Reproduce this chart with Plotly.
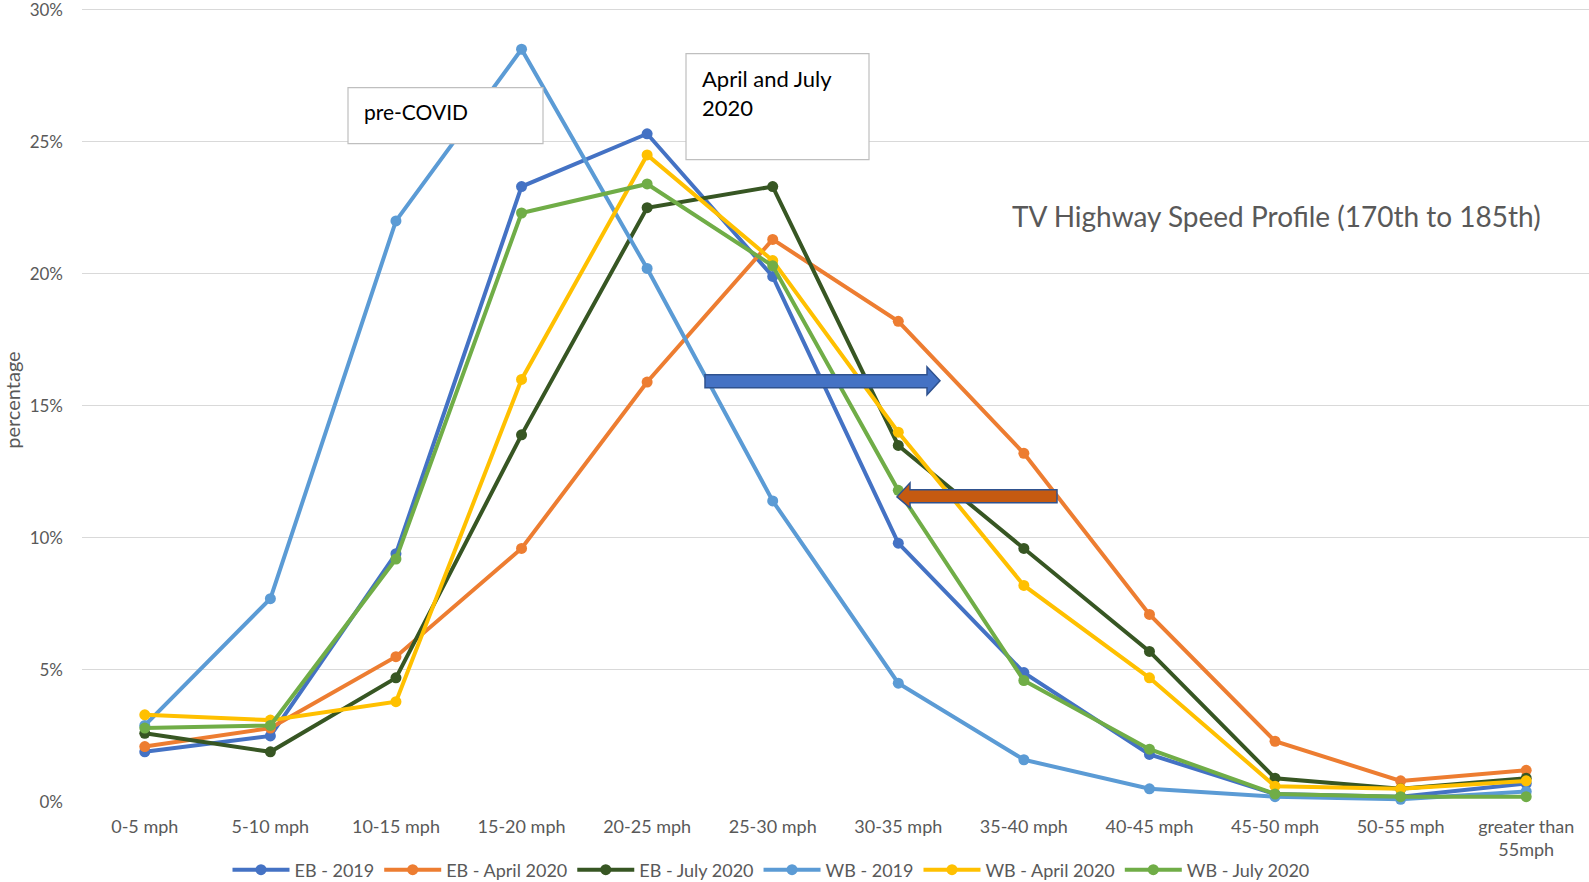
import plotly.graph_objects as go

categories = ["0-5 mph", "5-10 mph", "10-15 mph", "15-20 mph", "20-25 mph", "25-30 mph",
              "30-35 mph", "35-40 mph", "40-45 mph", "45-50 mph", "50-55 mph", "greater than<br>55mph"]

eb_2019 = [1.9, 2.5, 9.4, 23.3, 25.3, 19.9, 9.8, 4.9, 1.8, 0.3, 0.2, 0.7]
eb_april_2020 = [2.1, 2.8, 5.5, 9.6, 15.9, 21.3, 18.2, 13.2, 7.1, 2.3, 0.8, 1.2]
eb_july_2020 = [2.6, 1.9, 4.7, 13.9, 22.5, 23.3, 13.5, 9.6, 5.7, 0.9, 0.5, 0.9]
wb_2019 = [2.9, 7.7, 22.0, 28.5, 20.2, 11.4, 4.5, 1.6, 0.5, 0.2, 0.1, 0.4]
wb_april_2020 = [3.3, 3.1, 3.8, 16.0, 24.5, 20.5, 14.0, 8.2, 4.7, 0.6, 0.5, 0.8]
wb_july_2020 = [2.8, 2.9, 9.2, 22.3, 23.4, 20.3, 11.8, 4.6, 2.0, 0.3, 0.2, 0.2]

series_names = ["EB - 2019", "EB - April 2020", "EB - July 2020", "WB - 2019", "WB - April 2020", "WB - July 2020"]
series_values = [eb_2019, eb_april_2020, eb_july_2020, wb_2019, wb_april_2020, wb_july_2020]
series_colors = ["#4472C4", "#ED7D31", "#375623", "#5B9BD5", "#FFC000", "#70AD47"]

W, H = 1589, 882
YMAX = 0.301
L, R, B = 82, 0, 80
T = (H - B) - (H - B - 10) * YMAX / 0.30  # keep the 30% gridline at y=10
PW, PH = W - L - R, H - T - B


def px(x):
    return (x - L) / PW


def py(y):
    return (H - B - y) / PH


FONT = "Lato, 'Open Sans', sans-serif"
GRAY = "#595959"

fig = go.Figure()
for name, vals, col in zip(series_names, series_values, series_colors):
    fig.add_trace(go.Scatter(
        x=categories, y=[v / 100 for v in vals], name=name, mode="lines+markers",
        line=dict(color=col, width=4), marker=dict(color=col, size=11),
        cliponaxis=False,
    ))

shapes = []
shapes.append(dict(type="rect", xref="paper", yref="paper", x0=px(348), x1=px(543), y0=py(144), y1=py(88),
                   line=dict(color="#BFBFBF", width=1.2), fillcolor="white", layer="above"))
shapes.append(dict(type="rect", xref="paper", yref="paper", x0=px(686), x1=px(869), y0=py(160), y1=py(54),
                   line=dict(color="#BFBFBF", width=1.2), fillcolor="white", layer="above"))


def poly(points):
    return "M " + " L ".join(f"{px(a)},{py(b)}" for a, b in points) + " Z"


blue_pts = [(705, 375), (927, 375), (927, 367), (940, 381), (927, 395), (927, 388), (705, 388)]
shapes.append(dict(type="path", xref="paper", yref="paper", path=poly(blue_pts),
                   fillcolor="#4472C4", line=dict(color="#2F528F", width=1.5), layer="above"))
or_pts = [(1057, 490), (910, 490), (910, 483), (897, 497), (910, 508), (910, 503), (1057, 503)]
shapes.append(dict(type="path", xref="paper", yref="paper", path=poly(or_pts),
                   fillcolor="#C55A11", line=dict(color="#2F528F", width=1.5), layer="above"))

annotations = [
    dict(text="pre-COVID", xref="paper", yref="paper", x=px(362), y=py(112), xanchor="left", yanchor="middle",
         showarrow=False, font=dict(family=FONT, size=21, color="black")),
    dict(text="April and July<br>2020", xref="paper", yref="paper", x=px(700), y=py(63), xanchor="left",
         yanchor="top", align="left", showarrow=False, font=dict(family=FONT, size=22, color="black")),
    dict(text="TV Highway Speed Profile (170th to 185th)", xref="paper", yref="paper", x=px(1276), y=py(216),
         xanchor="center", yanchor="middle", showarrow=False, font=dict(family=FONT, size=28, color=GRAY)),
    dict(text="percentage", xref="paper", yref="paper", x=px(12), y=py(400), xanchor="center", yanchor="middle",
         textangle=-90, showarrow=False, font=dict(family=FONT, size=20, color=GRAY)),
]

fig.update_layout(
    width=W, height=H,
    margin=dict(l=L, r=R, t=T, b=B, pad=0, autoexpand=False),
    paper_bgcolor="white", plot_bgcolor="white",
    font=dict(family=FONT, size=17, color=GRAY),
    shapes=shapes, annotations=annotations,
    legend=dict(orientation="h", x=px(771), xanchor="center", y=py(870), yanchor="middle",
                font=dict(family=FONT, size=18, color=GRAY), itemwidth=57, tracegroupgap=0,
                bgcolor="rgba(0,0,0,0)"),
    xaxis=dict(type="category", showgrid=False, zeroline=False, showline=False, ticks="", automargin=False,
               tickfont=dict(family=FONT, size=18, color=GRAY), range=[-0.5, 11.5], ticklabelstandoff=12),
    yaxis=dict(range=[0, YMAX], tickvals=[0, 0.05, 0.10, 0.15, 0.20, 0.25, 0.30], tickformat=".0%",
               showgrid=True, gridcolor="#D9D9D9", automargin=False, ticklabeloverflow="allow",
               gridwidth=1.3, zeroline=False, showline=False, ticks="", ticklabelstandoff=18,
               tickfont=dict(family=FONT, size=17, color=GRAY)),
)

fig.write_html("out.html", config={"displayModeBar": False})

with open("out.html", "r", encoding="utf-8") as f:
    html = f.read()
html = html.replace("<head>", "<head><style>html,body{margin:0;padding:0;overflow:hidden;}</style>", 1)
with open("out.html", "w", encoding="utf-8") as f:
    f.write(html)
